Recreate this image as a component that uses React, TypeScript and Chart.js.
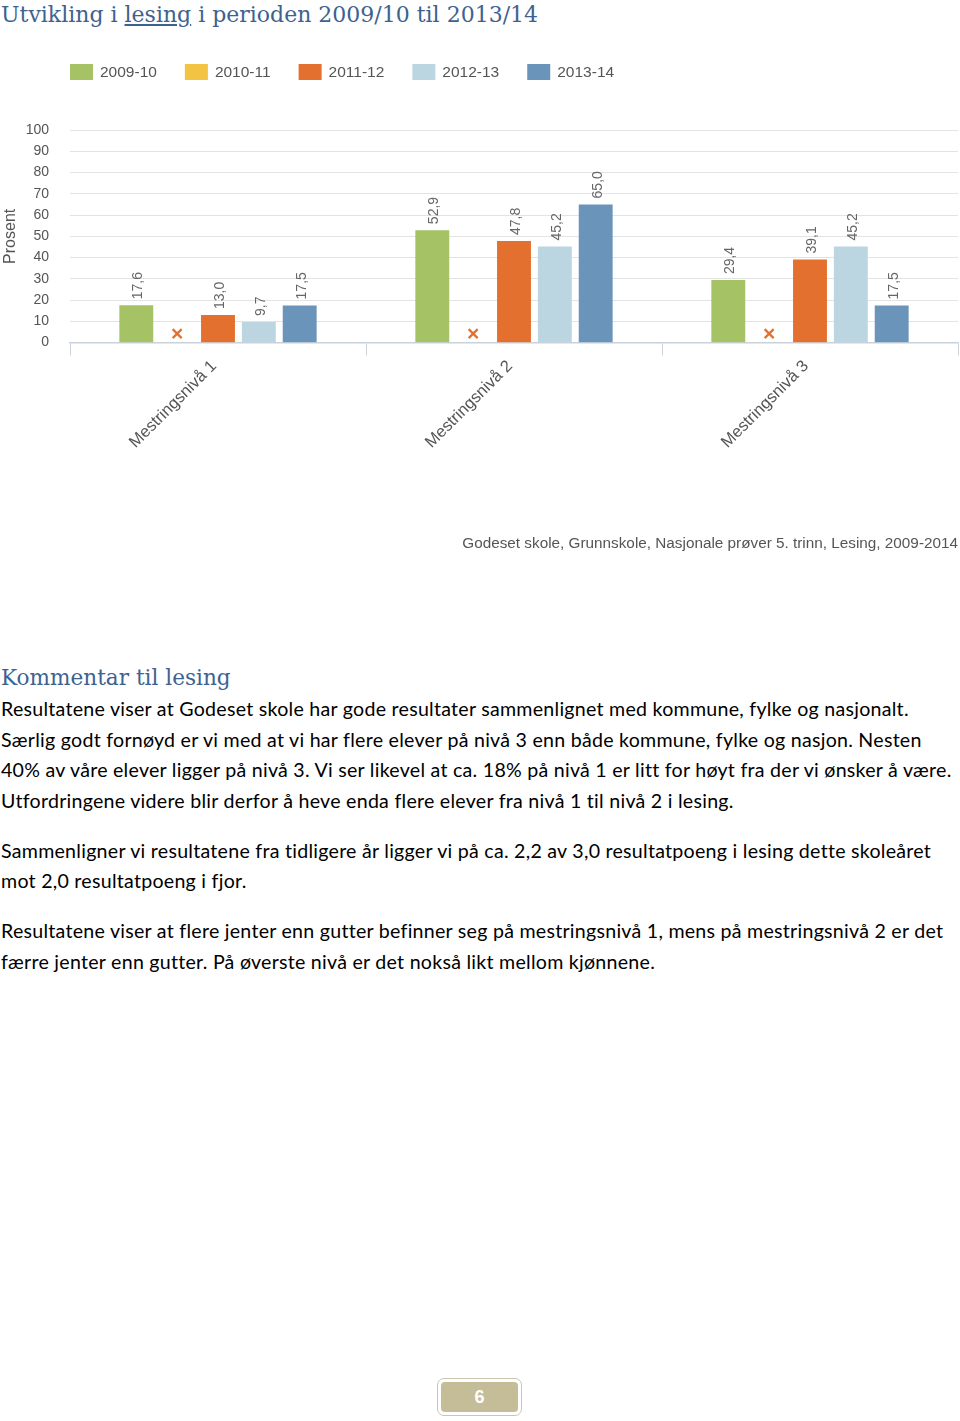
import React, { useEffect, useRef } from "react";
import { Chart, registerables } from "chart.js";

Chart.register(...registerables);

// ---- Data ----
const categories = ["Mestringsnivå 1", "Mestringsnivå 2", "Mestringsnivå 3"];
const seriesLabels = ["2009-10", "2010-11", "2011-12", "2012-13", "2013-14"];
const values2009_10: (number | null)[] = [17.6, 52.9, 29.4];
const values2010_11: (number | null)[] = [null, null, null];
const values2011_12: (number | null)[] = [13.0, 47.8, 39.1];
const values2012_13: (number | null)[] = [9.7, 45.2, 45.2];
const values2013_14: (number | null)[] = [17.5, 65.0, 17.5];
const seriesColors = ["#A5C265", "#F3C443", "#E3702F", "#BCD6E1", "#6B94BA"];
const yAxisTitle = "Prosent";
const sourceText = "Godeset skole, Grunnskole, Nasjonale prøver 5. trinn, Lesing, 2009-2014";

const titleBefore = "Utvikling i ";
const titleUnderlined = "lesing";
const titleAfter = " i perioden 2009/10 til 2013/14";
const commentHeading = "Kommentar til lesing";
const paragraphs: string[][] = [
  [
    "Resultatene viser at Godeset skole har gode resultater sammenlignet med kommune, fylke og nasjonalt.",
    "Særlig godt fornøyd er vi med at vi har flere elever på nivå 3 enn både kommune, fylke og nasjon. Nesten",
    "40% av våre elever ligger på nivå 3. Vi ser likevel at ca. 18% på nivå 1 er litt for høyt fra der vi ønsker å være.",
    "Utfordringene videre blir derfor å heve enda flere elever fra nivå 1 til nivå 2 i lesing.",
  ],
  [
    "Sammenligner vi resultatene fra tidligere år ligger vi på ca. 2,2 av 3,0 resultatpoeng i lesing dette skoleåret",
    "mot 2,0 resultatpoeng i fjor.",
  ],
  [
    "Resultatene viser at flere jenter enn gutter befinner seg på mestringsnivå 1, mens på mestringsnivå 2 er det",
    "færre jenter enn gutter. På øverste nivå er det nokså likt mellom kjønnene.",
  ],
];
const pageNumber = "6";

const chartFont = "'Liberation Sans', Arial, sans-serif";

const allSeries = [values2009_10, values2010_11, values2011_12, values2012_13, values2013_14];

const legendPlugin = {
  id: "customLegend",
  afterDraw(chart: any) {
    const ctx = chart.ctx;
    ctx.save();
    ctx.font = `15.5px ${chartFont}`;
    ctx.textBaseline = "middle";
    let x = chart.chartArea.left;
    const y = 24;
    chart.data.datasets.forEach((ds: any) => {
      ctx.fillStyle = ds.backgroundColor;
      ctx.fillRect(x, y, 23, 16);
      ctx.fillStyle = "#555555";
      ctx.textAlign = "left";
      ctx.fillText(ds.label, x + 30, y + 8.5);
      const w = ctx.measureText(ds.label).width;
      x += 30 + w + 28;
    });
    ctx.restore();
  },
};

const labelPlugin = {
  id: "barLabels",
  afterDatasetsDraw(chart: any) {
    const ctx = chart.ctx;
    const yScale = chart.scales.y;
    const zeroY = yScale.getPixelForValue(0);
    ctx.save();
    chart.data.datasets.forEach((ds: any, di: number) => {
      const meta = chart.getDatasetMeta(di);
      meta.data.forEach((bar: any, j: number) => {
        const v = ds.data[j];
        let bx = bar.x;
        if (v === null || v === undefined) {
          if (!isFinite(bx)) {
            const a = chart.getDatasetMeta(0).data[j];
            const b = chart.getDatasetMeta(2).data[j];
            bx = (a.x + b.x) / 2;
          }
          const cy = zeroY - 9;
          ctx.strokeStyle = "#E3702F";
          ctx.lineWidth = 2.2;
          ctx.beginPath();
          ctx.moveTo(bx - 4.5, cy - 4.5);
          ctx.lineTo(bx + 4.5, cy + 4.5);
          ctx.moveTo(bx + 4.5, cy - 4.5);
          ctx.lineTo(bx - 4.5, cy + 4.5);
          ctx.stroke();
          return;
        }
        const txt = Number(v).toFixed(1).replace(".", ",");
        ctx.save();
        ctx.translate(bx + 2, bar.y - 6);
        ctx.rotate(-Math.PI / 2);
        ctx.font = `14px ${chartFont}`;
        ctx.fillStyle = "#666666";
        ctx.textAlign = "left";
        ctx.textBaseline = "middle";
        ctx.fillText(txt, 0, 0);
        ctx.restore();
      });
    });
    ctx.restore();
  },
};

function BarChart() {
  const ref = useRef<HTMLCanvasElement | null>(null);
  useEffect(() => {
    if (!ref.current) return;
    const chart = new Chart(ref.current, {
      type: "bar",
      data: {
        labels: categories,
        datasets: allSeries.map((d, i) => ({
          label: seriesLabels[i],
          data: d,
          backgroundColor: seriesColors[i],
          borderWidth: 0,
          barPercentage: 0.83,
          categoryPercentage: 0.69,
        })),
      },
      options: {
        animation: false,
        responsive: false,
        devicePixelRatio: 1,
        layout: { padding: { top: 90, left: 0, right: 2, bottom: 0 } },
        plugins: {
          legend: { display: false },
          tooltip: { enabled: false },
          title: {
            display: true,
            position: "bottom",
            align: "end",
            text: sourceText,
            color: "#555555",
            font: { family: chartFont, size: 15.3, weight: "normal" },
            padding: { top: 0, bottom: 17 },
          },
        },
        scales: {
          x: {
            offset: true,
            grid: {
              display: true,
              drawOnChartArea: false,
              drawTicks: true,
              tickLength: 13,
              color: "#C9D2DA",
              offset: true,
            },
            border: { display: true, color: "#C9D2DA", width: 1.5 },
            ticks: {
              minRotation: 45,
              maxRotation: 45,
              color: "#555555",
              padding: 1,
              labelOffset: -4,
              font: { family: chartFont, size: 16.5 },
            },
            afterFit: (s: any) => {
              s.height = 192;
            },
          },
          y: {
            min: 0,
            max: 100,
            ticks: {
              stepSize: 10,
              color: "#555555",
              padding: 21,
              font: { family: chartFont, size: 14 },
            },
            grid: { color: "#E3E3E3", drawTicks: false },
            border: { display: false },
            title: {
              display: true,
              text: yAxisTitle,
              color: "#555555",
              font: { family: chartFont, size: 16 },
              padding: { top: 1, bottom: 0 },
            },
            afterFit: (s: any) => {
              s.width = 70;
            },
          },
        },
      } as any,
      plugins: [legendPlugin, labelPlugin],
    });
    return () => chart.destroy();
  }, []);
  return (
    <canvas
      ref={ref}
      width={960}
      height={530}
      style={{ position: "absolute", left: 0, top: 40, width: 960, height: 530 }}
    />
  );
}

export default function App() {
  const headingStyle: React.CSSProperties = {
    position: "absolute",
    left: 1,
    fontFamily: "'DejaVu Serif', serif",
    fontSize: 22,
    lineHeight: "30px",
    color: "#3E6290",
    whiteSpace: "nowrap",
  };
  return (
    <div style={{ position: "relative", width: 960, height: 1421, background: "#fff", overflow: "hidden" }}>
      <style>{`body{margin:0;}`}</style>
      <div style={{ ...headingStyle, top: 0 }}>
        {titleBefore}
        <span style={{ textDecoration: "underline" }}>{titleUnderlined}</span>
        {titleAfter}
      </div>
      <BarChart />
      <div style={{ ...headingStyle, top: 663, fontSize: 21.6 }}>{commentHeading}</div>
      <div
        style={{
          position: "absolute",
          left: 1,
          top: 694,
          fontFamily: "Lato, 'Liberation Sans', sans-serif",
          fontSize: 19.6,
          letterSpacing: "0.26px",
          lineHeight: "30.5px",
          color: "#000",
        }}
      >
        {paragraphs.map((p, i) => (
          <div key={i} style={{ marginBottom: 19.5 }}>
            {p.map((line, k) => (
              <div key={k} style={{ whiteSpace: "nowrap" }}>
                {line}
              </div>
            ))}
          </div>
        ))}
      </div>
      <div
        style={{
          position: "absolute",
          left: 437,
          top: 1378,
          width: 85,
          height: 38,
          boxSizing: "border-box",
          border: "1.5px solid #C9C5AE",
          borderRadius: 7,
          padding: 3,
          background: "#fff",
        }}
      >
        <div
          style={{
            width: "100%",
            height: "100%",
            background: "#C4BD97",
            borderRadius: 4,
            color: "#fff",
            fontFamily: "'Liberation Sans', Arial, sans-serif",
            fontWeight: "bold",
            fontSize: 18,
            display: "flex",
            alignItems: "center",
            justifyContent: "center",
          }}
        >
          {pageNumber}
        </div>
      </div>
    </div>
  );
}
